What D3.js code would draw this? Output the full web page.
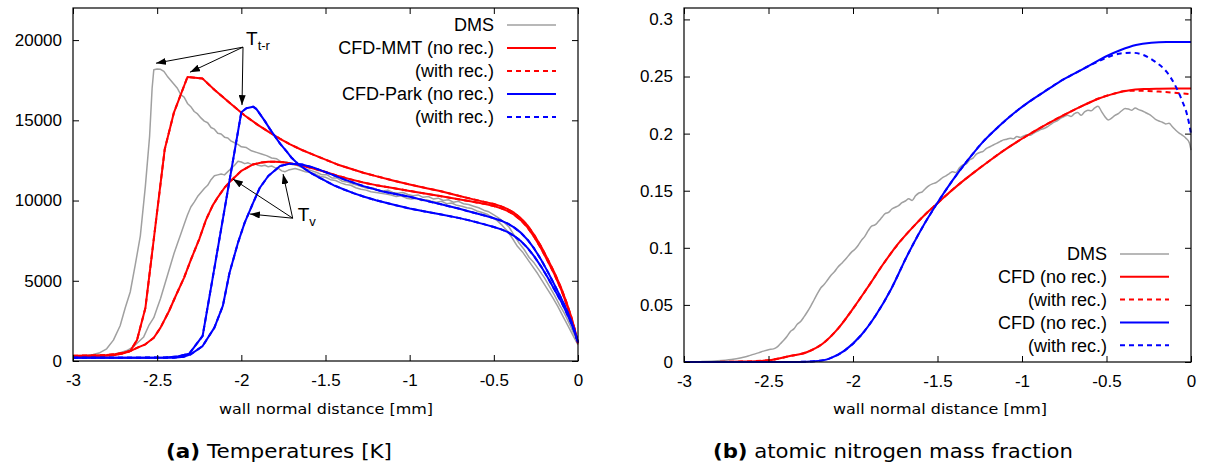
<!DOCTYPE html>
<html>
<head>
<meta charset="utf-8">
<script src="https://cdn.jsdelivr.net/npm/d3@7"></script>
<style>
  body { margin: 0; background: #fff; }
  svg { display: block; }
</style>
</head>
<body>
<svg id="fig" width="1208" height="467"></svg>
<script>
// ---------------------------------------------------------------
// Panel (a): temperatures [K] vs wall normal distance [mm]
// each series is a list of [x (mm), T (K)] pairs
// ---------------------------------------------------------------
const tempXTicks = [-3, -2.5, -2, -1.5, -1, -0.5, 0];
const tempXTickLabels = ["-3", "-2.5", "-2", "-1.5", "-1", "-0.5", "0"];
const tempYTicks = [0, 5000, 10000, 15000, 20000];
const tempYTickLabels = ["0", "5000", "10000", "15000", "20000"];

// DMS translational-rotational temperature
const dmsTtr = [
  [-3.00,320],[-2.96,330],[-2.92,350],[-2.88,400],[-2.84,520],[-2.80,760],[-2.76,1300],
  [-2.72,2200],[-2.69,3300],[-2.66,4300],[-2.63,6000],[-2.60,7800],[-2.57,10900],
  [-2.545,14000],[-2.53,17000],[-2.52,18150],[-2.50,18200],[-2.48,18180],[-2.46,18050],
  [-2.44,17750],[-2.42,17500],[-2.40,17250],[-2.38,17000],[-2.36,16600],[-2.34,16450],
  [-2.32,16050],[-2.30,15850],[-2.28,15550],[-2.26,15400],[-2.24,15150],[-2.22,14950],
  [-2.20,14850],[-2.18,14550],[-2.16,14450],[-2.14,14200],[-2.12,14150],[-2.10,13950],
  [-2.08,13900],[-2.06,13700],[-2.04,13600],[-2.02,13500],[-2.00,13350],[-1.97,13300],
  [-1.94,13100],[-1.91,13000],[-1.88,12900],[-1.85,12800],[-1.82,12650],[-1.79,12600],
  [-1.76,12400],[-1.73,12400],[-1.70,12250],[-1.67,12200],[-1.64,12050],[-1.61,11950],
  [-1.58,11850],[-1.55,11750],[-1.52,11600],[-1.49,11600],[-1.46,11400],[-1.43,11400],
  [-1.40,11200],[-1.37,11150],[-1.34,11050],[-1.31,10950],[-1.28,10850],[-1.25,10750],
  [-1.22,10800],[-1.19,10650],[-1.16,10600],[-1.13,10650],[-1.10,10500],[-1.07,10450],
  [-1.04,10500],[-1.01,10380],[-0.98,10300],[-0.95,10350],[-0.92,10200],[-0.89,10250],
  [-0.86,10100],[-0.83,10150],[-0.80,10000],[-0.77,10050],[-0.74,9900],[-0.71,9950],
  [-0.68,9800],[-0.65,9750],[-0.62,9650],[-0.59,9550],[-0.56,9400],[-0.53,9300],
  [-0.50,9100],[-0.47,8900],[-0.44,8650],[-0.41,8350],[-0.38,7850],[-0.35,7350],
  [-0.32,6950],[-0.29,6450],[-0.26,6100],[-0.23,5650],[-0.20,5200],[-0.17,4650],
  [-0.14,4100],[-0.11,3500],[-0.08,2950],[-0.05,2300],[-0.02,1600],[0.00,1100]
];

// DMS vibrational temperature
const dmsTv = [
  [-3.00,280],[-2.94,290],[-2.88,300],[-2.82,330],[-2.76,420],[-2.72,520],[-2.68,650],
  [-2.64,900],[-2.61,1200],[-2.58,1500],[-2.55,2200],[-2.52,2700],[-2.50,3300],
  [-2.48,3900],[-2.46,4600],[-2.44,5300],[-2.42,6000],[-2.40,6700],[-2.38,7300],
  [-2.36,7900],[-2.34,8500],[-2.32,9100],[-2.30,9600],[-2.28,9900],[-2.26,10250],
  [-2.24,10500],[-2.22,10750],[-2.20,10950],[-2.18,11300],[-2.16,11550],[-2.14,11600],
  [-2.12,11650],[-2.10,11600],[-2.08,11800],[-2.06,12000],[-2.04,12200],[-2.02,12450],
  [-2.00,12400],[-1.98,12300],[-1.96,12350],[-1.94,12250],[-1.92,12300],[-1.90,12200],
  [-1.88,12150],[-1.86,12200],[-1.84,12100],[-1.82,12150],[-1.80,12050],[-1.78,12000],
  [-1.76,11850],[-1.74,11800],[-1.72,11900],[-1.70,11950],[-1.68,12000],[-1.65,11900],
  [-1.62,11800],[-1.59,11750],[-1.56,11650],[-1.53,11500],[-1.50,11450],[-1.47,11300],
  [-1.44,11250],[-1.41,11100],[-1.38,11000],[-1.35,10950],[-1.32,10800],[-1.29,10700],
  [-1.26,10650],[-1.23,10550],[-1.20,10500],[-1.17,10450],[-1.14,10400],[-1.11,10350],
  [-1.08,10250],[-1.05,10300],[-1.02,10150],[-0.99,10100],[-0.96,10150],[-0.93,10000],
  [-0.90,10050],[-0.87,9950],[-0.84,9900],[-0.81,9950],[-0.78,9800],[-0.75,9850],
  [-0.72,9700],[-0.69,9650],[-0.66,9550],[-0.63,9500],[-0.60,9350],[-0.57,9250],
  [-0.54,9150],[-0.51,8950],[-0.48,8750],[-0.45,8450],[-0.42,8100],[-0.39,7650],
  [-0.36,7150],[-0.33,6800],[-0.30,6350],[-0.27,5900],[-0.24,5450],[-0.21,4950],
  [-0.18,4450],[-0.15,3950],[-0.12,3400],[-0.09,2800],[-0.06,2200],[-0.03,1600],[0.00,1000]
];

// CFD, MMT model: translational-rotational and vibrational temperature
const mmtTtr = [
  [-3.00,330],[-2.90,340],[-2.80,370],[-2.75,420],[-2.70,520],[-2.66,620],[-2.62,1300],
  [-2.57,3300],[-2.455,13200],[-2.40,15500],[-2.32,17700],[-2.23,17600],[-2.16,16900],
  [-2.07,16100],[-1.98,15300],[-1.90,14700],[-1.84,14300],[-1.77,13850],[-1.71,13500],
  [-1.64,13150],[-1.57,12850],[-1.50,12550],[-1.43,12250],[-1.35,11980],[-1.275,11730],
  [-1.20,11520],[-1.10,11250],[-1.00,11000],[-0.90,10770],[-0.82,10590],[-0.71,10300],
  [-0.64,10120],[-0.55,9900],[-0.50,9780],[-0.46,9650],[-0.42,9480],[-0.38,9240],
  [-0.34,8900],[-0.30,8450],[-0.26,7850],[-0.22,7150],[-0.18,6350],[-0.14,5500],
  [-0.10,4550],[-0.07,3700],[-0.04,2750],[-0.02,2000],[0.00,1100]
];
const mmtTv = [
  [-3.00,300],[-2.90,310],[-2.80,330],[-2.75,380],[-2.70,480],[-2.66,620],[-2.62,820],
  [-2.57,1040],[-2.52,1450],[-2.48,2080],[-2.43,3100],[-2.39,4050],[-2.34,5200],
  [-2.30,6300],[-2.25,7600],[-2.21,8800],[-2.17,9700],[-2.14,10200],[-2.10,10800],
  [-2.07,11150],[-2.03,11550],[-2.00,11850],[-1.96,12080],[-1.93,12250],[-1.88,12370],
  [-1.84,12420],[-1.80,12420],[-1.75,12380],[-1.70,12300],[-1.66,12230],[-1.60,12080],
  [-1.55,11930],[-1.50,11780],[-1.43,11550],[-1.35,11320],[-1.275,11120],[-1.20,10960],
  [-1.10,10780],[-1.00,10600],[-0.90,10420],[-0.82,10280],[-0.71,10080],[-0.64,9950],
  [-0.55,9780],[-0.50,9660],[-0.46,9530],[-0.42,9360],[-0.38,9120],[-0.34,8780],
  [-0.30,8330],[-0.26,7730],[-0.22,7030],[-0.18,6230],[-0.14,5400],[-0.10,4450],
  [-0.07,3600],[-0.04,2650],[-0.02,1950],[0.00,1100]
];

// CFD, Park model: translational-rotational and vibrational temperature
const parkTtr = [
  [-3.00,200],[-2.80,200],[-2.60,210],[-2.45,220],[-2.38,280],[-2.31,450],[-2.23,1560],
  [-2.15,6400],[-2.08,10650],[-2.00,15500],[-1.97,15750],[-1.93,15850],[-1.91,15700],
  [-1.89,15400],[-1.86,14950],[-1.83,14450],[-1.80,14000],[-1.77,13550],[-1.73,13050],
  [-1.70,12650],[-1.66,12250],[-1.62,11950],[-1.58,11680],[-1.54,11450],[-1.50,11220],
  [-1.45,10950],[-1.39,10690],[-1.33,10450],[-1.275,10250],[-1.20,10020],[-1.10,9750],
  [-1.00,9500],[-0.90,9300],[-0.82,9150],[-0.71,8920],[-0.64,8750],[-0.55,8500],
  [-0.50,8350],[-0.46,8220],[-0.42,8050],[-0.38,7800],[-0.34,7480],[-0.30,7050],
  [-0.26,6520],[-0.22,5900],[-0.18,5200],[-0.14,4450],[-0.10,3700],[-0.07,3050],
  [-0.04,2350],[-0.02,1800],[0.00,1150]
];
const parkTv = [
  [-3.00,200],[-2.60,200],[-2.40,210],[-2.34,270],[-2.30,420],[-2.23,930],[-2.16,2080],
  [-2.11,3430],[-2.07,5500],[-2.02,7370],[-1.98,8620],[-1.93,9860],[-1.89,10800],
  [-1.84,11530],[-1.77,12150],[-1.71,12300],[-1.64,12250],[-1.57,12050],[-1.48,11690],
  [-1.39,11320],[-1.275,10900],[-1.16,10560],[-1.00,10240],[-0.90,9980],[-0.82,9780],
  [-0.71,9500],[-0.64,9300],[-0.55,9050],[-0.50,8900],[-0.46,8760],[-0.42,8580],
  [-0.38,8330],[-0.34,8000],[-0.30,7560],[-0.26,7000],[-0.22,6330],[-0.18,5570],
  [-0.14,4750],[-0.10,3920],[-0.07,3250],[-0.04,2480],[-0.02,1880],[0.00,1150]
];
// the recombining runs give the same temperature profiles to plotting accuracy
const mmtTtrRec = mmtTtr, mmtTvRec = mmtTv;
const parkTtrRec = parkTtr, parkTvRec = parkTv;

// ---------------------------------------------------------------
// Panel (b): atomic nitrogen mass fraction vs wall normal distance [mm]
// ---------------------------------------------------------------
const massXTicks = [-3, -2.5, -2, -1.5, -1, -0.5, 0];
const massXTickLabels = ["-3", "-2.5", "-2", "-1.5", "-1", "-0.5", "0"];
const massYTicks = [0, 0.05, 0.1, 0.15, 0.2, 0.25, 0.3];
const massYTickLabels = ["0", "0.05", "0.1", "0.15", "0.2", "0.25", "0.3"];

const dmsN = [
  [-3.00,0.0000],[-2.90,0.0003],[-2.80,0.0010],[-2.72,0.0022],[-2.66,0.0038],[-2.62,0.0052],
  [-2.59,0.0067],[-2.56,0.0080],[-2.53,0.0095],[-2.50,0.0108],[-2.47,0.0115],[-2.45,0.0130],
  [-2.43,0.0160],[-2.41,0.0190],[-2.39,0.0225],[-2.37,0.0268],[-2.35,0.0290],[-2.33,0.0330],
  [-2.31,0.0355],[-2.29,0.0395],[-2.27,0.0440],[-2.25,0.0490],[-2.23,0.0545],[-2.21,0.0600],
  [-2.19,0.0650],[-2.17,0.0680],[-2.15,0.0720],[-2.13,0.0760],[-2.11,0.0790],[-2.09,0.0830],
  [-2.07,0.0860],[-2.05,0.0890],[-2.03,0.0925],[-2.01,0.0960],[-1.99,0.0985],[-1.97,0.1020],
  [-1.95,0.1065],[-1.93,0.1100],[-1.91,0.1150],[-1.89,0.1190],[-1.87,0.1200],[-1.85,0.1230],
  [-1.83,0.1265],[-1.81,0.1300],[-1.79,0.1310],[-1.77,0.1340],[-1.75,0.1355],[-1.73,0.1370],
  [-1.71,0.1395],[-1.69,0.1410],[-1.67,0.1430],[-1.65,0.1415],[-1.63,0.1455],[-1.61,0.1480],
  [-1.59,0.1490],[-1.57,0.1520],[-1.55,0.1545],[-1.53,0.1560],[-1.51,0.1570],[-1.49,0.1590],
  [-1.47,0.1615],[-1.45,0.1630],[-1.43,0.1650],[-1.41,0.1665],[-1.39,0.1660],[-1.37,0.1700],
  [-1.35,0.1725],[-1.33,0.1735],[-1.31,0.1770],[-1.29,0.1785],[-1.27,0.1820],[-1.25,0.1835],
  [-1.23,0.1845],[-1.21,0.1870],[-1.19,0.1885],[-1.17,0.1900],[-1.15,0.1915],[-1.13,0.1930],
  [-1.11,0.1945],[-1.09,0.1950],[-1.07,0.1960],[-1.05,0.1955],[-1.03,0.1975],[-1.01,0.1965],
  [-0.99,0.1980],[-0.97,0.1990],[-0.95,0.1985],[-0.93,0.2005],[-0.91,0.2020],[-0.89,0.2035],
  [-0.87,0.2045],[-0.85,0.2060],[-0.83,0.2080],[-0.81,0.2100],[-0.79,0.2115],[-0.77,0.2135],
  [-0.75,0.2150],[-0.73,0.2160],[-0.71,0.2150],[-0.69,0.2175],[-0.67,0.2185],[-0.65,0.2160],
  [-0.63,0.2190],[-0.61,0.2205],[-0.59,0.2200],[-0.57,0.2225],[-0.55,0.2240],[-0.53,0.2195],
  [-0.51,0.2150],[-0.49,0.2120],[-0.47,0.2135],[-0.45,0.2160],[-0.43,0.2175],[-0.41,0.2200],
  [-0.39,0.2220],[-0.37,0.2215],[-0.35,0.2205],[-0.33,0.2225],[-0.31,0.2210],[-0.29,0.2200],
  [-0.27,0.2185],[-0.25,0.2170],[-0.23,0.2150],[-0.21,0.2125],[-0.19,0.2110],[-0.17,0.2100],
  [-0.15,0.2085],[-0.13,0.2090],[-0.11,0.2060],[-0.09,0.2030],[-0.07,0.2005],[-0.05,0.1985],
  [-0.03,0.1960],[-0.01,0.1920],[0.00,0.1855]
];

const mmtN = [
  [-3.00,0],[-2.80,0.0001],[-2.66,0.0004],[-2.50,0.0015],[-2.38,0.0050],[-2.27,0.0088],
  [-2.18,0.0160],[-2.09,0.0290],[-2.00,0.0467],[-1.91,0.0660],[-1.82,0.0860],[-1.73,0.1040],
  [-1.64,0.1190],[-1.55,0.1325],[-1.50,0.1390],[-1.46,0.1445],[-1.37,0.1560],[-1.28,0.1665],
  [-1.19,0.1765],[-1.10,0.1860],[-1.00,0.1955],[-0.91,0.2035],[-0.82,0.2110],[-0.73,0.2180],
  [-0.64,0.2245],[-0.55,0.2305],[-0.46,0.2348],[-0.37,0.2378],[-0.28,0.2390],[-0.19,0.2393],
  [-0.10,0.2394],[0.00,0.2394]
];
const mmtNRec = [
  [-3.00,0],[-2.80,0.0001],[-2.66,0.0004],[-2.50,0.0015],[-2.38,0.0050],[-2.27,0.0088],
  [-2.18,0.0160],[-2.09,0.0290],[-2.00,0.0467],[-1.91,0.0660],[-1.82,0.0860],[-1.73,0.1040],
  [-1.64,0.1190],[-1.55,0.1325],[-1.50,0.1390],[-1.46,0.1445],[-1.37,0.1560],[-1.28,0.1665],
  [-1.19,0.1765],[-1.10,0.1860],[-1.00,0.1955],[-0.91,0.2035],[-0.82,0.2110],[-0.73,0.2180],
  [-0.64,0.2245],[-0.55,0.2305],[-0.46,0.2348],[-0.37,0.2376],[-0.28,0.2375],[-0.19,0.2368],
  [-0.10,0.2358],[0.00,0.2345]
];
const parkN = [
  [-3.00,0],[-2.50,0],[-2.32,0.0001],[-2.23,0.0006],[-2.14,0.0030],[-2.05,0.0100],
  [-1.955,0.0230],[-1.865,0.0410],[-1.774,0.0640],[-1.683,0.0920],[-1.593,0.1170],
  [-1.502,0.1390],[-1.41,0.1592],[-1.321,0.1767],[-1.231,0.1928],[-1.14,0.2060],
  [-1.05,0.2176],[-0.959,0.2278],[-0.869,0.2366],[-0.778,0.2454],[-0.688,0.2527],
  [-0.597,0.2600],[-0.507,0.2673],[-0.416,0.2732],[-0.326,0.2776],[-0.235,0.2796],
  [-0.145,0.2802],[0.00,0.2802]
];
const parkNRec = [
  [-3.00,0],[-2.50,0],[-2.32,0.0001],[-2.23,0.0006],[-2.14,0.0030],[-2.05,0.0100],
  [-1.955,0.0230],[-1.865,0.0410],[-1.774,0.0640],[-1.683,0.0920],[-1.593,0.1170],
  [-1.502,0.1390],[-1.41,0.1592],[-1.321,0.1767],[-1.231,0.1928],[-1.14,0.2060],
  [-1.05,0.2176],[-0.959,0.2278],[-0.869,0.2366],[-0.778,0.2454],[-0.688,0.2527],
  [-0.597,0.2598],[-0.507,0.2660],[-0.416,0.2702],[-0.348,0.2708],[-0.281,0.2688],
  [-0.213,0.2630],[-0.145,0.2542],[-0.10,0.2440],[-0.054,0.2293],[-0.02,0.2147],[0.00,0.2000]
];

// ---------------------------------------------------------------
// drawing
// ---------------------------------------------------------------
const GREY = "#a0a0a0", RED = "#ff0000", BLUE = "#0000ff";
const TICK_FONT = "'Liberation Sans', Arial, sans-serif";
const TEXT_FONT = "'DejaVu Sans', Verdana, sans-serif";

const svg = d3.select("#fig");
svg.append("rect").attr("width", 1208).attr("height", 467).attr("fill", "#fff");

const defs = svg.append("defs");
defs.append("marker")
  .attr("id", "arrowhead")
  .attr("viewBox", "0 0 10 7")
  .attr("markerWidth", 10).attr("markerHeight", 7)
  .attr("refX", 10).attr("refY", 3.5)
  .attr("markerUnits", "userSpaceOnUse")
  .attr("orient", "auto")
  .append("path").attr("d", "M0,0 L10,3.5 L0,7 Z").attr("fill", "#000");

function drawPanel(p) {
  const x = d3.scaleLinear().domain([-3, 0]).range([p.left, p.right]);
  const y = d3.scaleLinear().domain(p.yDomain).range([p.bottom, p.top]);
  const g = svg.append("g");

  // curves
  const line = d3.line().x(d => x(d[0])).y(d => y(d[1])).curve(p.curve);
  p.series.forEach(s => {
    g.append("path")
      .attr("d", line(s.data))
      .attr("fill", "none")
      .attr("stroke", s.color)
      .attr("stroke-width", s.width)
      .attr("stroke-dasharray", s.dash || null)
      .attr("stroke-linejoin", "round");
  });

  // axes with inward ticks on all four sides
  const styleAxis = sel => {
    sel.select(".domain").remove();
    sel.selectAll(".tick line").attr("stroke", "#000").attr("stroke-width", 1);
    sel.selectAll(".tick text")
      .attr("fill", "#000")
      .style("font-family", TICK_FONT)
      .style("font-size", "17px");
  };
  g.append("g").attr("transform", `translate(0,${p.bottom})`)
    .call(d3.axisBottom(x).tickValues(p.xTicks)
      .tickFormat((d, i) => p.xTickLabels[i]).tickSizeInner(-6).tickSizeOuter(0).tickPadding(13))
    .call(styleAxis);
  g.append("g").attr("transform", `translate(0,${p.top})`)
    .call(d3.axisTop(x).tickValues(p.xTicks).tickFormat("").tickSizeInner(-6).tickSizeOuter(0))
    .call(styleAxis);
  g.append("g").attr("transform", `translate(${p.left},0)`)
    .call(d3.axisLeft(y).tickValues(p.yTicks)
      .tickFormat((d, i) => p.yTickLabels[i]).tickSizeInner(-6).tickSizeOuter(0).tickPadding(11))
    .call(styleAxis);
  g.append("g").attr("transform", `translate(${p.right},0)`)
    .call(d3.axisRight(y).tickValues(p.yTicks).tickFormat("").tickSizeInner(-6).tickSizeOuter(0))
    .call(styleAxis);

  g.append("rect")
    .attr("x", p.left).attr("y", p.top)
    .attr("width", p.right - p.left).attr("height", p.bottom - p.top)
    .attr("fill", "none").attr("stroke", "#000").attr("stroke-width", 1.2);

  // legend
  p.legend.forEach((e, i) => {
    const cy = p.legendY + i * p.legendStep;
    g.append("text")
      .attr("x", p.legendX).attr("y", cy).attr("dy", "0.35em")
      .attr("text-anchor", "end")
      .style("font-family", TICK_FONT).style("font-size", "18px")
      .text(e.label);
    g.append("line")
      .attr("x1", p.legendX + 13).attr("x2", p.legendX + 62)
      .attr("y1", cy).attr("y2", cy)
      .attr("stroke", e.color).attr("stroke-width", e.width)
      .attr("stroke-dasharray", e.dash || null);
  });

  // axis title and sub-caption (set in a slightly widened face)
  g.append("text")
    .attr("x", p.labelX - 107).attr("y", 414)
    .attr("textLength", 214).attr("lengthAdjust", "spacingAndGlyphs")
    .style("font-family", TEXT_FONT).style("font-size", "14px")
    .text("wall normal distance [mm]");
  const cap = g.append("text")
    .attr("x", p.captionX).attr("y", 458)
    .attr("textLength", p.captionWidth).attr("lengthAdjust", "spacingAndGlyphs")
    .style("font-family", TEXT_FONT).style("font-size", "20px");
  cap.append("tspan").style("font-weight", "bold").text(p.captionTag);
  cap.append("tspan").text(" " + p.caption);

  return { x, y, g };
}

const dash = "5,4";

const panelA = drawPanel({
  left: 73, right: 578, top: 8, bottom: 361,
  yDomain: [0, 22000],
  xTicks: tempXTicks, xTickLabels: tempXTickLabels,
  yTicks: tempYTicks, yTickLabels: tempYTickLabels,
  curve: d3.curveLinear,
  series: [
    { data: dmsTtr, color: GREY, width: 1.5 },
    { data: dmsTv, color: GREY, width: 1.5 },
    { data: mmtTtr, color: RED, width: 2 },
    { data: mmtTv, color: RED, width: 2 },
    { data: mmtTtrRec, color: RED, width: 2, dash },
    { data: mmtTvRec, color: RED, width: 2, dash },
    { data: parkTtr, color: BLUE, width: 2 },
    { data: parkTv, color: BLUE, width: 2 },
    { data: parkTtrRec, color: BLUE, width: 2, dash },
    { data: parkTvRec, color: BLUE, width: 2, dash }
  ],
  legend: [
    { label: "DMS", color: GREY, width: 1.5 },
    { label: "CFD-MMT (no rec.)", color: RED, width: 2 },
    { label: "(with rec.)", color: RED, width: 2, dash },
    { label: "CFD-Park (no rec.)", color: BLUE, width: 2 },
    { label: "(with rec.)", color: BLUE, width: 2, dash }
  ],
  legendX: 494, legendY: 25, legendStep: 23,
  labelX: 326, captionX: 166, captionWidth: 226,
  captionTag: "(a)", caption: "Temperatures [K]"
});

const panelB = drawPanel({
  left: 684, right: 1191, top: 8, bottom: 362,
  yDomain: [0, 0.31],
  xTicks: massXTicks, xTickLabels: massXTickLabels,
  yTicks: massYTicks, yTickLabels: massYTickLabels,
  curve: d3.curveMonotoneX,
  series: [
    { data: dmsN, color: GREY, width: 1.5 },
    { data: mmtN, color: RED, width: 2 },
    { data: mmtNRec, color: RED, width: 2, dash },
    { data: parkN, color: BLUE, width: 2 },
    { data: parkNRec, color: BLUE, width: 2, dash }
  ],
  legend: [
    { label: "DMS", color: GREY, width: 1.5 },
    { label: "CFD (no rec.)", color: RED, width: 2 },
    { label: "(with rec.)", color: RED, width: 2, dash },
    { label: "CFD (no rec.)", color: BLUE, width: 2 },
    { label: "(with rec.)", color: BLUE, width: 2, dash }
  ],
  legendX: 1107, legendY: 254, legendStep: 22.8,
  labelX: 940, captionX: 713, captionWidth: 360,
  captionTag: "(b)", caption: "atomic nitrogen mass fraction"
});

// annotations in panel (a): labels with arrows pointing at the temperature peaks
function annotate(panel, label, sub, at, tail, heads) {
  const { x, y, g } = panel;
  heads.forEach(h => {
    g.append("line")
      .attr("x1", x(tail[0])).attr("y1", y(tail[1]))
      .attr("x2", x(h[0])).attr("y2", y(h[1]))
      .attr("stroke", "#000").attr("stroke-width", 1)
      .attr("marker-end", "url(#arrowhead)");
  });
  const t = g.append("text")
    .attr("x", x(at[0])).attr("y", y(at[1]))
    .style("font-family", TICK_FONT).style("font-size", "19px");
  t.append("tspan").text(label);
  t.append("tspan").attr("dy", 5).style("font-size", "13px").text(sub);
}

annotate(panelA, "T", "t-r", [-1.972, 19700], [-1.99, 19560],
  [[-2.507, 18560], [-2.305, 18000], [-1.996, 15950]]);
annotate(panelA, "T", "v", [-1.665, 8730], [-1.695, 8900],
  [[-2.050, 11340], [-1.752, 11650], [-1.949, 9160]]);
</script>
</body>
</html>
